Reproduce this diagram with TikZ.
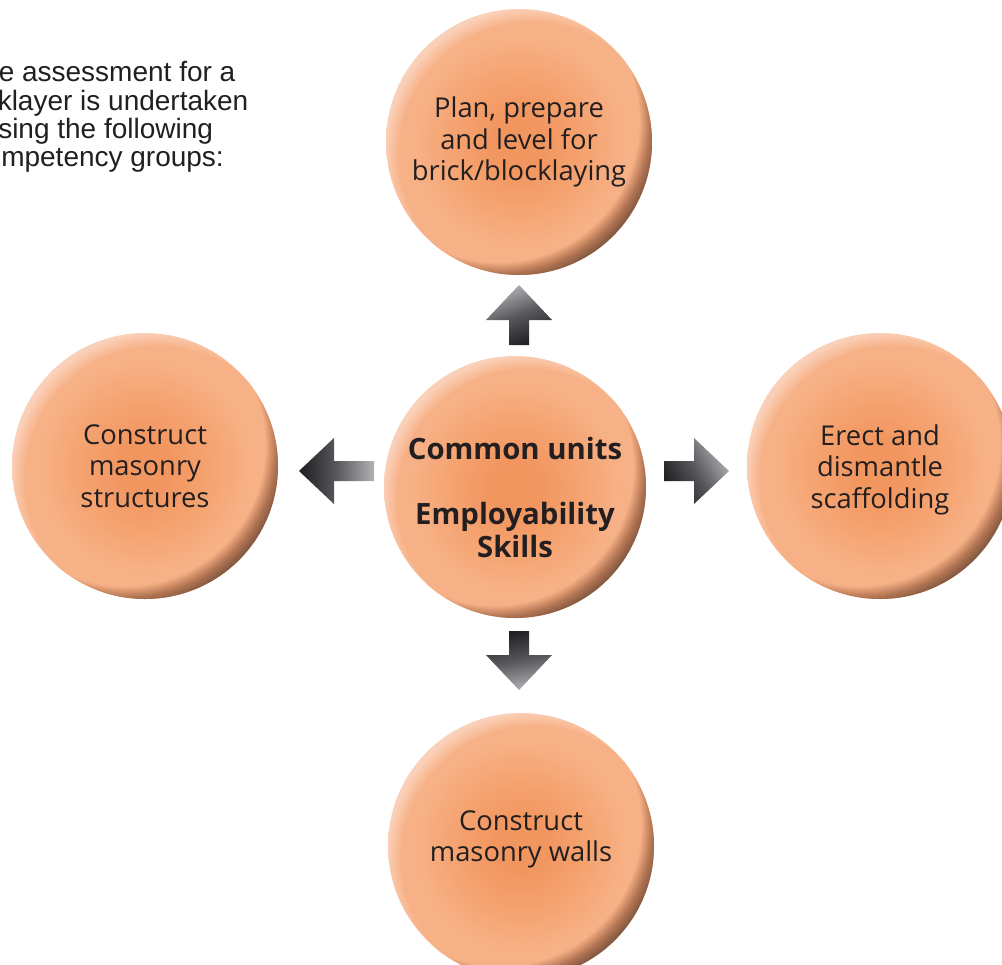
\documentclass[tikz,border=0pt]{standalone}
\usepackage{fontspec}
\setmainfont{Liberation Sans}
\newfontfamily\bubfont{Open Sans}
\usetikzlibrary{calc}

\definecolor{bubC}{RGB}{242,150,96}
\definecolor{bubM}{RGB}{245,164,114}
\definecolor{bubL}{RGB}{247,177,134}
\definecolor{bubP}{RGB}{250,208,184}
\definecolor{bubD}{RGB}{178,116,82}
\definecolor{bubB}{RGB}{118,82,62}
\definecolor{txt}{RGB}{35,31,32}
\definecolor{mD}{RGB}{30,30,33}
\definecolor{mM}{RGB}{88,88,92}
\definecolor{mL}{RGB}{178,178,182}

\pgfdeclareradialshading{bubbody}{\pgfpoint{0bp}{0bp}}{color(0bp)=(bubC); color(5bp)=(bubC); color(13bp)=(bubM); color(20bp)=(bubL); color(50bp)=(bubL)}
\pgfdeclareradialshading{bubhl}{\pgfpoint{5bp}{-5bp}}{color(0bp)=(bubL); color(25bp)=(bubL); color(27.5bp)=(bubP); color(50bp)=(bubP)}
\pgfdeclareradialshading{bubrim}{\pgfpoint{-8.5bp}{8.5bp}}{color(0bp)=(bubL); color(26.5bp)=(bubL); color(28.3bp)=(bubD); color(30bp)=(bubB); color(50bp)=(bubB)}

\newcommand\blockarr[3]{%
  \begin{scope}
    \coordinate (ba-s) at (#1);
    \coordinate (ba-e) at (#2);
    \coordinate (ba-h) at ($(ba-e)!26.25pt!(ba-s)$);
    \shade[#3] ($(ba-s)!7.5pt!90:(ba-e)$) -- ($(ba-h)!7.5pt!-90:(ba-s)$) -- ($(ba-h)!24.75pt!-90:(ba-s)$) -- (ba-e) -- ($(ba-h)!24.75pt!90:(ba-s)$) -- ($(ba-h)!7.5pt!90:(ba-s)$) -- ($(ba-s)!7.5pt!-90:(ba-e)$) -- cycle;
  \end{scope}}

\begin{document}
\begin{tikzpicture}[x=0.75pt,y=-0.75pt,
  bubble/.style={circle, inner sep=0pt, outer sep=0pt, minimum size=2*#1,
    path picture={
      \shade[shading=bubhl] (path picture bounding box.south west) rectangle (path picture bounding box.north east);
      \begin{scope}
        \clip ($(path picture bounding box.center)+(0.1*#1,-0.1*#1)$) circle (#1);
        \shade[shading=bubrim] (path picture bounding box.south west) rectangle (path picture bounding box.north east);
        \clip ($(path picture bounding box.center)+(-0.16*#1,0.16*#1)$) circle (1.06*#1);
        \shade[shading=bubbody] (path picture bounding box.south west) rectangle (path picture bounding box.north east);
      \end{scope}
    }},
  bubtext/.style={align=center, inner sep=0pt, text=txt, font=\bubfont\fontsize{20.5pt}{23.6pt}\selectfont},
  centtext/.style={align=center, inner sep=0pt, text=txt, font=\bubfont\bfseries\fontsize{22pt}{24.5pt}\selectfont},
  intro/.style={anchor=base west, inner sep=0pt, text=txt, font=\fontsize{21pt}{21pt}\selectfont},
  arrup/.style={top color=mL, bottom color=mD, middle color=mM, shading angle=20},
  arrdown/.style={top color=mD, bottom color=mL, middle color=mM, shading angle=10},
  arrright/.style={top color=mL, bottom color=mD, middle color=mM, shading angle=-60},
  arrleft/.style={top color=mL, bottom color=mD, middle color=mM, shading angle=-90}
]
\useasboundingbox (0,0) rectangle (1002,964);
\clip (0,0) rectangle (1002,964);
\fill[white] (0,0) rectangle (1002,964);

% intro text (cut at the left edge as in the picture)
\node[intro] (in1) at (-1.5,81) {e assessment for a};
\node[intro] (in2) at (-2.5,110) {klayer is undertaken};
\node[intro] (in3) at (-2,138) {sing the following};
\node[intro] (in4) at (1,166) {mpetency groups:};

% bubbles
\node[bubble=99.75pt] (T) at (519,142) {};
\node[bubble=98.25pt] (C) at (515,487) {};
\node[bubble=99.75pt] (L) at (145,466) {};
\node[bubble=99.75pt] (R) at (880,466) {};
\node[bubble=99.75pt] (B) at (521,846) {};

% texts
\node[bubtext] (Tt) at (T) {Plan, prepare\\and level for\\brick/blocklaying};
\node[bubtext] (Lt) at (L) {Construct\\masonry\\structures};
\node[bubtext] (Rt) at ($(R)+(0,3.5)$) {Erect and\\dismantle\\scaffolding};
\node[bubtext] (Bt) at ($(B)+(0,-6.5)$) {Construct\\masonry walls};
\node[centtext] (Ct) at ($(C)+(0,10.5)$) {Common units\\[24.5pt]Employability\\Skills};

% arrows
\coordinate (uS) at ($(C.north)+(4,-11)$);
\coordinate (uE) at ($(T.south)+(0,10)$);
\coordinate (lS) at ($(C.west)+(-10,-16)$);
\coordinate (lE) at ($(L.east)+(21,5)$);
\coordinate (rS) at ($(C.east)+(18,-16)$);
\coordinate (rE) at ($(R.west)+(-18,5)$);
\coordinate (dS) at ($(C.south)+(4,13)$);
\coordinate (dE) at ($(B.north)+(-2,-23)$);

\blockarr{uS}{uE}{arrup}
\blockarr{lS}{lE}{arrleft}
\blockarr{rS}{rE}{arrright}
\blockarr{dS}{dE}{arrdown}
\end{tikzpicture}
\end{document}
